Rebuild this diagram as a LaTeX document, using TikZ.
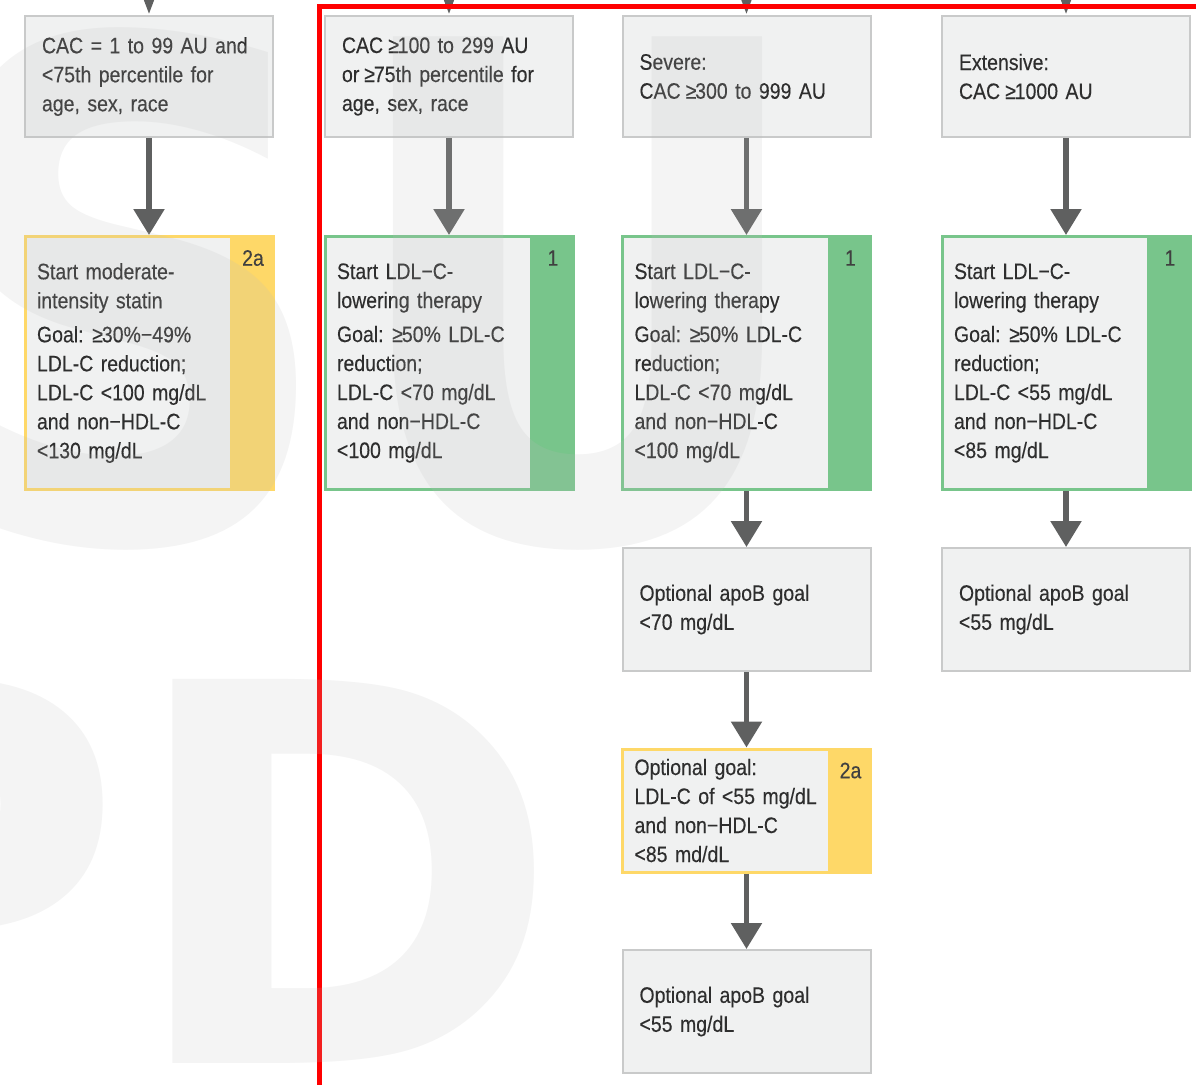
\documentclass[tikz,border=0pt]{standalone}
\usepackage{fontspec}
\setmainfont{Liberation Sans}[FakeStretch=0.87, FakeBold=0.25]
\newfontfamily\markfont{DejaVu Sans}
\usetikzlibrary{arrows.meta,calc}

\definecolor{boxfill}{HTML}{F0F1F1}
\definecolor{boxline}{HTML}{C9CACA}
\definecolor{classgreen}{HTML}{78C58B}
\definecolor{classyellow}{HTML}{FED868}
\definecolor{arrowgray}{HTML}{5F6060}
\definecolor{txt}{HTML}{2E2E2E}
\definecolor{labeltxt}{HTML}{404040}
\definecolor{markgray}{RGB}{188,188,188}

% tighter greater-or-equal sign
\newcommand\atleast{\kern-1.2pt≥\kern-0.6pt}

\tikzset{
  boxtext/.style={font=\fontsize{11.2pt}{14.5pt}\selectfont, text=txt, align=left},
  plainbox/.style={boxtext, draw=boxline, fill=boxfill, line width=1pt,
    minimum width=124pt, text width=107pt, inner xsep=8.5pt, inner ysep=0pt},
  classbox/.style={boxtext, draw=#1, fill=boxfill, line width=1.5pt,
    minimum width=124pt, minimum height=126.5pt, text width=112pt,
    inner xsep=6pt, inner ysep=0pt,
    path picture={\fill[#1] ([xshift=-21.5pt]path picture bounding box.north east)
      rectangle (path picture bounding box.south east);}},
  classlabel/.style={font=\fontsize{11.2pt}{13pt}\selectfont, text=labeltxt, inner sep=0pt},
  flow/.style={draw=arrowgray, line width=2.75pt, -{Triangle[width=15pt,length=13pt]}},
  stub/.style={draw=arrowgray, line width=2.75pt, -{Triangle[width=5.5pt,length=9pt]}},
  watermark/.style={text=markgray, text opacity=0.17, inner sep=0pt, anchor=base west, transform shape}
}

\begin{document}
\begin{tikzpicture}[x=0.5pt, y=-0.5pt]
\useasboundingbox (0,0) rectangle (1196,1084);

% risk categories by calcium score
\node[plainbox, minimum height=60.5pt] (t1) at (149,76.5)
  {CAC = 1 to 99 AU and\\ <75th percentile for\\ age, sex, race};
\node[plainbox, minimum height=60.5pt] (t2) at (449,76.5)
  {CAC \atleast100 to 299 AU\\ or \atleast75th percentile for\\ age, sex, race};
\node[plainbox, minimum height=60.5pt] (t3) at (746.5,76.5)
  {Severe:\\ CAC \atleast300 to 999 AU};
\node[plainbox, minimum height=60.5pt] (t4) at (1066,76.5)
  {Extensive:\\ CAC \atleast1000 AU};

% treatment recommendations with class of recommendation strip
\node[classbox=classyellow] (c1) at (149,363)
  {Start moderate-\\ intensity statin\\[2.5pt]
   Goal: \atleast30\%−49\%\\ LDL-C reduction;\\ LDL-C <100 mg/dL\\ and non−HDL-C\\ <130 mg/dL};
\node[classbox=classgreen] (c2) at (449,363)
  {Start LDL−C-\\ lowering therapy\\[2.5pt]
   Goal: \atleast50\% LDL-C\\ reduction;\\ LDL-C <70 mg/dL\\ and non−HDL-C\\ <100 mg/dL};
\node[classbox=classgreen] (c3) at (746.5,363)
  {Start LDL−C-\\ lowering therapy\\[2.5pt]
   Goal: \atleast50\% LDL-C\\ reduction;\\ LDL-C <70 mg/dL\\ and non−HDL-C\\ <100 mg/dL};
\node[classbox=classgreen] (c4) at (1066,363)
  {Start LDL−C-\\ lowering therapy\\[2.5pt]
   Goal: \atleast50\% LDL-C\\ reduction;\\ LDL-C <55 mg/dL\\ and non−HDL-C\\ <85 mg/dL};

% optional goals
\node[plainbox, minimum height=61.5pt] (o3) at (746.5,609.5)
  {Optional apoB goal\\ <70 mg/dL};
\node[plainbox, minimum height=61.5pt] (o4) at (1066,609.5)
  {Optional apoB goal\\ <55 mg/dL};
\node[classbox=classyellow, minimum height=61.5pt] (y3) at (746.5,810.5)
  {Optional goal:\\ LDL-C of <55 mg/dL\\ and non−HDL-C\\ <85 md/dL};
\node[plainbox, minimum height=61.5pt] (b3) at (746.5,1011.5)
  {Optional apoB goal\\ <55 mg/dL};

% class labels
\node[classlabel] (l1) at ($(c1.north east)+(-21.5,23)$) {2a};
\node[classlabel] (l2) at ($(c2.north east)+(-21.5,23)$) {1};
\node[classlabel] (l3) at ($(c3.north east)+(-21.5,23)$) {1};
\node[classlabel] (l4) at ($(c4.north east)+(-21.5,23)$) {1};
\node[classlabel] (l5) at ($(y3.north east)+(-21.5,23)$) {2a};

% incoming arrows from above
\coordinate (s1) at (149,-40);
\coordinate (s2) at (449,-40);
\coordinate (s3) at (746.5,-40);
\coordinate (s4) at (1066,-40);
\draw[stub] (s1) -- (t1);
\draw[stub] (s2) -- (t2);
\draw[stub] (s3) -- (t3);
\draw[stub] (s4) -- (t4);

% flow arrows
\draw[flow] (t1) -- (c1);
\draw[flow] (t2) -- (c2);
\draw[flow] (t3) -- (c3);
\draw[flow] (t4) -- (c4);
\draw[flow] (c3) -- (o3);
\draw[flow] (c4) -- (o4);
\draw[flow] (o3) -- (y3);
\draw[flow] (y3) -- (b3);

% highlight frame
\draw[red, line width=2.5pt] (1210,6) -- (319,6) -- (319,1100);

% faint background lettering
\node[watermark, xscale=0.85, font=\markfont\bfseries\fontsize{345.5pt}{345.5pt}\selectfont] (wm1) at (-84,540) {SU};
\node[watermark, font=\markfont\bfseries\fontsize{263.5pt}{263.5pt}\selectfont] (wm2) at (-262,1063) {PD};
\end{tikzpicture}
\end{document}
